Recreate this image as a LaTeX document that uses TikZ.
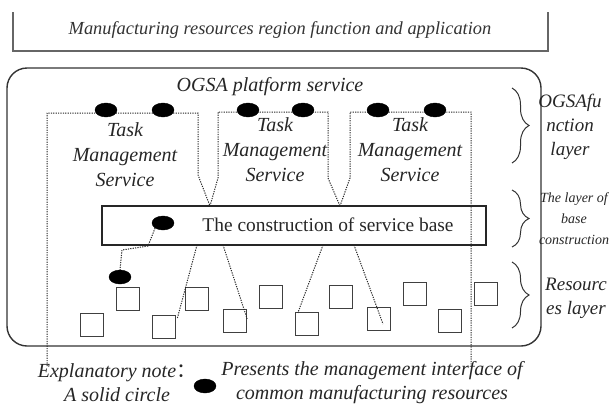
\documentclass[tikz,border=0pt]{standalone}
\usepackage{fontspec}
\setmainfont{Liberation Serif}
\newfontfamily\cjkfont{Noto Sans CJK SC}
\usetikzlibrary{shapes.geometric,decorations.pathreplacing,calc}
\begin{document}
\begin{tikzpicture}[x=1pt,y=-1pt,
  dot/.style={ellipse, fill=black, draw=black, minimum width=22pt, minimum height=14pt, inner sep=0pt},
  conn/.style={dash pattern=on 1.2pt off 1.2pt, line width=1pt, black!85},
  sq/.style={draw=black!75, line width=1.3pt, minimum size=23pt, inner sep=0pt},
  itxt/.style={font=\fontsize{20}{25}\selectfont\itshape, text=black!85, align=center, inner sep=0pt},
  itnote/.style={font=\fontsize{20}{24}\selectfont\itshape, text=black!85, align=center, inner sep=0pt},
  itsmall/.style={font=\fontsize{14}{21}\selectfont\itshape, text=black!85, align=center, inner sep=0pt},
  itside/.style={font=\fontsize{19}{24}\selectfont\itshape, text=black!85, align=center, inner sep=0pt},
  bracestyle/.style={decorate, decoration={brace, amplitude=17pt}, line width=1pt, black!80}
]
\useasboundingbox (0,0) rectangle (609,408);

% top application box (open at the top)
\draw[line width=1.6pt, black!60] (13,12) -- (13,51) -- (548,51) -- (548,12);
\node[font=\fontsize{18.4}{22}\selectfont\itshape, text=black!80, inner sep=0pt] (app) at (280,30)
  {Manufacturing resources region function and application};

% platform frame
\draw[line width=1.4pt, black!80, rounded corners=20pt] (7,68) rectangle (541,346);
\node[itxt] (ogsa) at (270,87) {OGSA platform service};

% task management services
\node[itxt] (t1) at (125,155) {Task\\Management\\Service};
\node[itxt] (t2) at (275,150) {Task\\Management\\Service};
\node[itxt] (t3) at (410,150) {Task\\Management\\Service};

\coordinate (v1) at (210,206);
\coordinate (v2) at (340,206);
\coordinate (e1) at (47,366);
\coordinate (e2) at (471,366);
\draw[conn] (e1) -- (47,113) -- (198,113) -- (198,175) -- (v1);
\draw[conn] (v1) -- (218,178) -- (218,112) -- (328,112) -- (328,178) -- (v2);
\draw[conn] (v2) -- (350,178) -- (350,112) -- (471,112) -- (e2);

\node[dot] (d1) at (106,110) {};
\node[dot] (d2) at (163,110) {};
\node[dot] (d3) at (248,110) {};
\node[dot] (d4) at (303,110) {};
\node[dot] (d5) at (378,110) {};
\node[dot] (d6) at (435,110) {};

% service base
\node[draw=black!85, line width=1.5pt, minimum width=384pt, minimum height=39pt, inner sep=0pt] (base) at (294,225.5) {};
\node[font=\fontsize{19.4}{22}\selectfont, text=black!85, inner sep=0pt] (basetxt) at (328,225) {The construction of service base};
\node[dot] (idot) at (163,223) {};
\node[dot] (ldot) at (120,277) {};
\draw[conn] (idot.south west) -- (148,246) -- (122,250) -- (ldot.north);

% resources
\node[sq] (s1) at (92,325) {};
\node[sq] (s2) at (128,299) {};
\node[sq] (s3) at (164,327) {};
\node[sq] (s4) at (197,299) {};
\node[sq] (s5) at (235,321) {};
\node[sq] (s6) at (271,297) {};
\node[sq] (s7) at (307,324) {};
\node[sq] (s8) at (341,297) {};
\node[sq] (s9) at (379,319) {};
\node[sq] (s10) at (415,294) {};
\node[sq] (s11) at (450,321) {};
\node[sq] (s12) at (486,294) {};

\coordinate (b1) at (197,245);
\coordinate (b2) at (223,245);
\coordinate (b3) at (323,245);
\coordinate (b4) at (354,245);
\draw[conn] (b1) -- ($(s3.north east)+(1,4)$);
\draw[conn] (b2) -- ($(s5.north east)+(0,10)$);
\draw[conn] (b3) -- ($(s7.north west)+(3,1)$);
\draw[conn] (b4) -- ($(s9.center)+(4,5)$);

% layer braces
\draw[bracestyle] (512,88) -- (512,163);
\draw[bracestyle] (512,190) -- (512,247);
\draw[bracestyle] (512,262) -- (512,328);
\node[itside] (l1) at (570,127) {OGSAfu\\nction\\layer};
\node[itsmall] (l2) at (574,219) {The layer of\\base\\construction};
\node[itside] (l3) at (576,298) {Resourc\\es layer};

% explanatory note
\node[itnote] (n1) at (117,383) {Explanatory note{\cjkfont ：}\\A solid circle};
\node[dot] (ndot) at (205,386) {};
\node[itnote] (n2) at (372,383) {Presents the management interface of\\common manufacturing resources};
\end{tikzpicture}
\end{document}
